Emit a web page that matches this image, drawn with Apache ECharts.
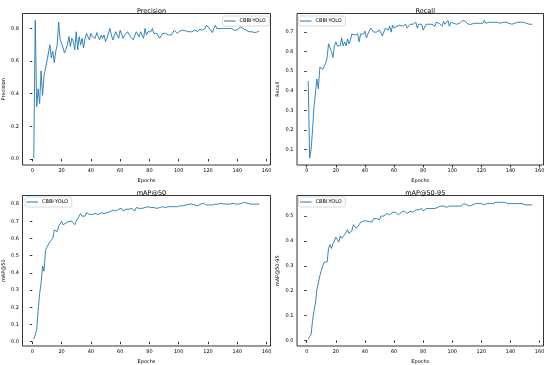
<!DOCTYPE html>
<html>
<head>
<meta charset="utf-8">
<script src="https://cdn.jsdelivr.net/npm/echarts@6/dist/echarts.min.js"></script>
<style>html,body{margin:0;padding:0;background:#fff}#c{width:550px;height:365px}</style>
</head>
<body>
<div id="c"></div>
<script>
const seriesName = 'CBBI-YOLO';
const xTicks = [0, 20, 40, 60, 80, 100, 120, 140, 160];
const precisionTicks = [0.0, 0.2, 0.4, 0.6, 0.8];
const recallTicks = [0.1, 0.2, 0.3, 0.4, 0.5, 0.6, 0.7];
const map50Ticks = [0.0, 0.1, 0.2, 0.3, 0.4, 0.5, 0.6, 0.7, 0.8];
const map5095Ticks = [0.0, 0.1, 0.2, 0.3, 0.4, 0.5];

const precision = [0.005,0.85,0.32,0.43,0.34,0.54,0.39,0.51,0.50,0.60,0.60,0.70,0.62,0.66,0.59,0.66,0.70,0.84,0.73,0.71,
0.70,0.65,0.64,0.70,0.75,0.69,0.74,0.72,0.67,0.78,0.67,0.75,0.70,0.74,0.68,0.74,0.77,0.76,0.73,0.77,
0.75,0.76,0.74,0.775,0.75,0.73,0.76,0.74,0.76,0.72,0.74,0.73,0.80,0.76,0.73,0.74,0.78,0.77,0.74,0.79,
0.795,0.74,0.76,0.75,0.78,0.77,0.75,0.76,0.73,0.74,0.78,0.79,0.75,0.78,0.76,0.74,0.80,0.76,0.78,0.775,
0.78,0.80,0.77,0.775,0.77,0.76,0.74,0.75,0.77,0.76,0.77,0.775,0.76,0.77,0.76,0.77,0.79,0.78,0.77,0.78,
0.785,0.78,0.79,0.79,0.785,0.785,0.78,0.79,0.78,0.785,0.79,0.79,0.78,0.795,0.79,0.79,0.80,0.80,0.82,0.815,
0.80,0.79,0.775,0.80,0.82,0.80,0.81,0.80,0.805,0.80,0.79,0.80,0.795,0.80,0.79,0.80,0.795,0.79,0.785,0.79,
0.80,0.81,0.805,0.80,0.80,0.79,0.785,0.78,0.77,0.78,0.77,0.775,0.775,0.78,0.785];

const recall = [0.45,0.055,0.10,0.20,0.32,0.33,0.46,0.41,0.52,0.52,0.51,0.52,0.54,0.57,0.64,0.62,0.60,0.57,0.63,0.65,
0.63,0.64,0.63,0.67,0.63,0.65,0.63,0.665,0.64,0.66,0.69,0.68,0.685,0.68,0.69,0.65,0.69,0.70,0.69,0.705,
0.67,0.69,0.70,0.72,0.71,0.70,0.71,0.70,0.69,0.71,0.71,0.68,0.70,0.72,0.73,0.71,0.73,0.70,0.735,0.72,
0.72,0.73,0.73,0.735,0.74,0.73,0.735,0.74,0.72,0.73,0.74,0.73,0.74,0.73,0.75,0.72,0.74,0.745,0.74,0.71,
0.715,0.74,0.745,0.74,0.75,0.74,0.745,0.73,0.75,0.74,0.745,0.75,0.73,0.755,0.74,0.745,0.76,0.73,0.75,0.74,
0.745,0.74,0.74,0.74,0.745,0.75,0.76,0.76,0.755,0.745,0.74,0.745,0.74,0.745,0.745,0.75,0.745,0.74,0.745,0.745,
0.745,0.76,0.745,0.74,0.75,0.745,0.75,0.745,0.75,0.75,0.75,0.75,0.745,0.75,0.75,0.745,0.75,0.745,0.745,0.745,
0.74,0.735,0.745,0.74,0.75,0.755,0.75,0.745,0.75,0.74,0.745,0.74,0.74,0.74,0.74];

const map50 = [0.015,0.04,0.07,0.18,0.28,0.34,0.44,0.41,0.53,0.55,0.56,0.58,0.59,0.60,0.65,0.66,0.64,0.67,0.68,0.70,
0.68,0.67,0.69,0.68,0.70,0.71,0.70,0.71,0.68,0.70,0.71,0.73,0.745,0.73,0.72,0.73,0.75,0.74,0.74,0.735,
0.74,0.75,0.745,0.74,0.74,0.745,0.75,0.745,0.745,0.75,0.75,0.76,0.755,0.75,0.765,0.77,0.76,0.75,0.77,0.76,
0.775,0.76,0.77,0.77,0.775,0.77,0.775,0.775,0.77,0.76,0.78,0.775,0.775,0.78,0.775,0.78,0.78,0.77,0.785,0.775,
0.78,0.785,0.78,0.78,0.775,0.78,0.78,0.775,0.785,0.785,0.78,0.79,0.785,0.79,0.785,0.79,0.785,0.79,0.785,0.785,
0.79,0.785,0.79,0.79,0.795,0.795,0.80,0.795,0.80,0.80,0.795,0.79,0.79,0.795,0.80,0.80,0.805,0.80,0.795,0.795,
0.795,0.80,0.795,0.80,0.80,0.805,0.80,0.80,0.805,0.80,0.80,0.80,0.80,0.805,0.80,0.80,0.805,0.80,0.80,0.795,
0.80,0.805,0.805,0.805,0.81,0.81,0.805,0.805,0.80,0.80,0.80,0.80,0.80,0.80,0.80];

const map5095 = [0.005,0.015,0.025,0.08,0.12,0.15,0.205,0.20,0.26,0.28,0.30,0.315,0.315,0.315,0.37,0.385,0.37,0.39,0.40,0.415,
0.405,0.395,0.42,0.41,0.405,0.425,0.43,0.445,0.43,0.435,0.44,0.465,0.46,0.45,0.445,0.465,0.475,0.475,0.48,0.48,
0.48,0.478,0.477,0.477,0.477,0.49,0.49,0.49,0.495,0.485,0.50,0.50,0.50,0.505,0.51,0.515,0.505,0.51,0.515,0.52,
0.515,0.51,0.505,0.51,0.515,0.51,0.52,0.515,0.51,0.515,0.52,0.52,0.515,0.52,0.525,0.53,0.525,0.525,0.53,0.52,
0.525,0.53,0.53,0.53,0.53,0.53,0.535,0.53,0.535,0.535,0.535,0.54,0.535,0.54,0.54,0.535,0.54,0.54,0.54,0.54,
0.545,0.54,0.545,0.54,0.545,0.54,0.545,0.55,0.545,0.545,0.54,0.54,0.54,0.545,0.55,0.55,0.555,0.55,0.55,0.55,
0.545,0.545,0.55,0.55,0.555,0.55,0.55,0.55,0.55,0.555,0.55,0.555,0.555,0.555,0.555,0.555,0.55,0.55,0.55,0.55,
0.55,0.55,0.55,0.55,0.55,0.55,0.55,0.55,0.548,0.545,0.545,0.545,0.545,0.545,0.545];

const titles = ['Precision', 'Recall', 'mAP@50', 'mAP@50-95'];
const yNames = ['Precision', 'Recall', 'mAP@50', 'mAP@50-95'];

const FONT = 'DejaVu Sans';
const grids = [
  {left: 22.5, top: 13.5, width: 248, height: 151.5},
  {left: 297, top: 13.5, width: 246.5, height: 151.5},
  {left: 22.5, top: 195.5, width: 248, height: 151.5},
  {left: 297, top: 195.5, width: 246.5, height: 151.5}
];
const yRanges = [[-0.037, 0.892], [0.02, 0.795], [-0.025, 0.85], [-0.0225, 0.5825]];
const yTickSets = [precisionTicks, recallTicks, map50Ticks, map5095Ticks];
const dataSets = [precision, recall, map50, map5095];
const legendPos = [{left: 222.5, top: 16}, {left: 298.5, top: 16}, {left: 25, top: 197}, {left: 298.5, top: 197}];

const fmt = v => v.toFixed(1);

const option = {
  animation: false,
  backgroundColor: '#fff',
  title: titles.map((t, i) => ({
    text: t,
    left: grids[i].left + grids[i].width / 2,
    top: grids[i].top - 10.5,
    textAlign: 'center',
    textStyle: {fontFamily: FONT, fontSize: 6.5, fontWeight: 'normal', color: '#000'}
  })),
  legend: legendPos.map((p, i) => ({
    data: [seriesName],
    left: p.left, top: p.top,
    orient: 'vertical',
    icon: 'rect',
    itemWidth: 11.5, itemHeight: 1,
    padding: [2.5, 3.5, 2.5, 1.5],
    borderColor: '#d0d0d0', borderWidth: 0.8, borderRadius: 2,
    backgroundColor: '#fff',
    selectedMode: false,
    textStyle: {fontFamily: FONT, fontSize: 5, color: '#000', padding: [0, 0, 0, -1]}
  })),
  grid: grids.map(g => Object.assign({show: true, borderColor: '#000', borderWidth: 0.8, backgroundColor: 'transparent', containLabel: false}, g)),
  xAxis: grids.map((g, i) => ({
    type: 'value', gridIndex: i,
    min: -6.7, max: 162.7,
    name: 'Epochs', nameLocation: 'middle', nameGap: 13,
    nameTextStyle: {fontFamily: FONT, fontSize: 5, color: '#000'},
    axisLine: {show: false},
    splitLine: {show: false},
    axisTick: {show: true, length: 2.5, inside: false, customValues: xTicks, lineStyle: {color: '#000', width: 0.8}},
    axisLabel: {fontFamily: FONT, fontSize: 5, color: '#000', margin: 3.5, customValues: xTicks}
  })),
  yAxis: grids.map((g, i) => ({
    type: 'value', gridIndex: i,
    min: yRanges[i][0], max: yRanges[i][1],
    name: yNames[i], nameLocation: 'middle', nameGap: 16.5, nameRotate: 90,
    nameTextStyle: {fontFamily: FONT, fontSize: 5, color: '#000'},
    axisLine: {show: false},
    splitLine: {show: false},
    axisTick: {show: true, length: 2.5, inside: false, customValues: yTickSets[i], lineStyle: {color: '#000', width: 0.8}},
    axisLabel: {fontFamily: FONT, fontSize: 5, color: '#000', margin: 3.5, customValues: yTickSets[i], formatter: fmt}
  })),
  series: dataSets.map((d, i) => ({
    type: 'line', name: seriesName,
    xAxisIndex: i, yAxisIndex: i,
    data: d.map((v, k) => [k + 1, v]),
    showSymbol: false, symbol: 'none',
    lineStyle: {color: '#1f77b4', width: 0.9},
    itemStyle: {color: '#1f77b4'}
  }))
};

const chart = echarts.init(document.getElementById('c'), null, {renderer: 'canvas'});
chart.setOption(option);
</script>
</body>
</html>
